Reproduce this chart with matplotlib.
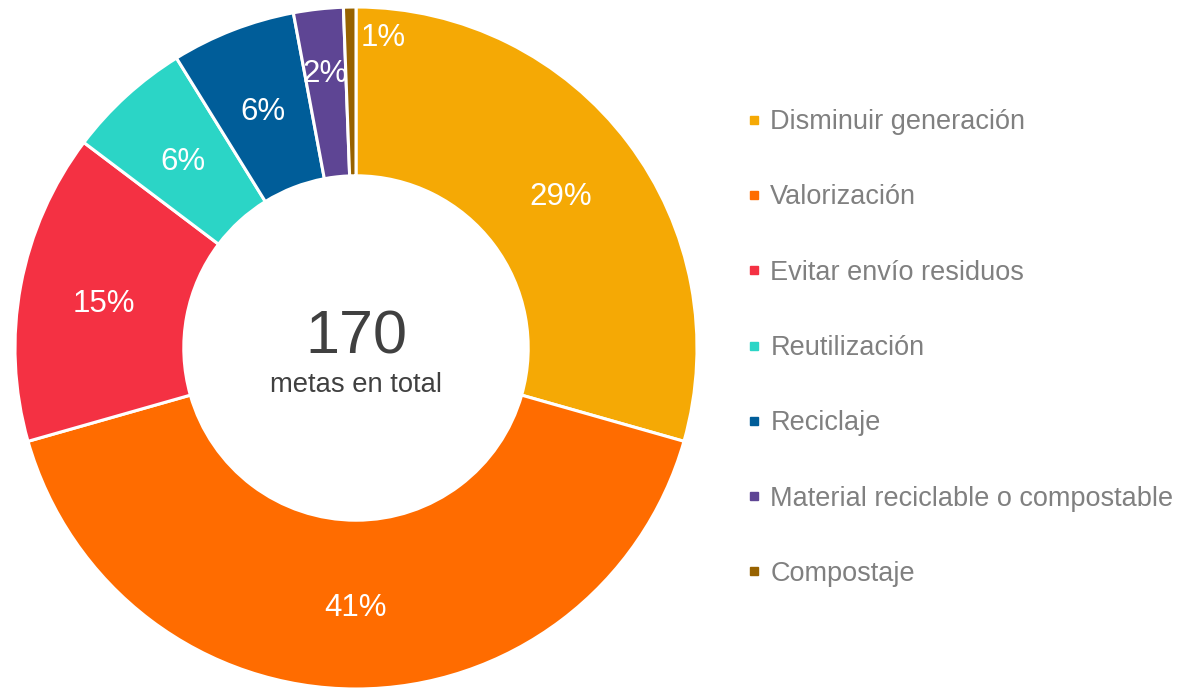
import matplotlib.pyplot as plt
from matplotlib.lines import Line2D
import numpy as np

plt.rcParams['font.family'] = ['Liberation Sans', 'DejaVu Sans']

categories = ['Disminuir generación', 'Valorización', 'Evitar envío residuos',
              'Reutilización', 'Reciclaje', 'Material reciclable o compostable',
              'Compostaje']
metas = [50, 70, 25, 10, 10, 4, 1]
colors = ['#F5A905', '#FF6C00', '#F43143', '#2BD5C6', '#005D99', '#5E4594', '#976200']
total = sum(metas)

fig = plt.figure(figsize=(11.88, 6.92), dpi=100)
ax = fig.add_axes([15 / 1188, 3 / 692, 682 / 1188, 682 / 692])

wedges, texts, autotexts = ax.pie(
    metas, colors=colors, startangle=90, counterclock=False,
    autopct=lambda p: '%.0f%%' % p, pctdistance=0.753,
    wedgeprops={'width': 0.495, 'edgecolor': 'white', 'linewidth': 2.2},
    textprops={'color': 'white', 'fontsize': 22.5})
ax.set_xlim(-1, 1)
ax.set_ylim(-1, 1)
ax.set_aspect('equal')

for t in autotexts:
    t.set_va('center_baseline')

# move the labels of the two thin slices
moves = {5: (0.82, 0.0), 6: (0.92, 0.097)}
for i, (r, dx) in moves.items():
    w = wedges[i]
    ang = np.deg2rad((w.theta1 + w.theta2) / 2)
    autotexts[i].set_position((r * np.cos(ang) + dx, r * np.sin(ang)))

ax.text(0, -0.015, str(total), ha='center', va='baseline', fontsize=44, color='#404040')
ax.text(0, -0.128, 'metas en total', ha='center', va='baseline', fontsize=19.7, color='#404040')

handles = [Line2D([], [], marker='s', linestyle='none', markersize=5.5,
                  markerfacecolor=c, markeredgecolor=c) for c in colors]
fig.legend(handles, categories, loc='center left', bbox_to_anchor=(746 / 1188, 0.497),
           frameon=False, fontsize=19.5, labelcolor='#808080', labelspacing=1.82,
           handlelength=0.6, handletextpad=0.3, borderpad=0, borderaxespad=0)

fig.savefig('out.png', dpi=100)
